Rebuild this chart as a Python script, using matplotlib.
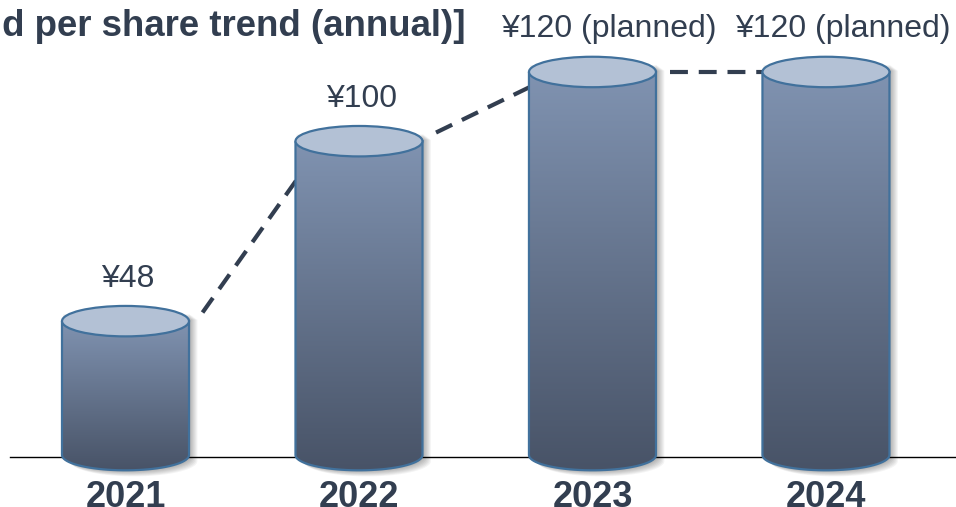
import matplotlib
matplotlib.use("Agg")
import matplotlib.pyplot as plt
import numpy as np
from matplotlib.patches import Ellipse, PathPatch
from matplotlib.path import Path

plt.rcParams['font.family'] = ['Liberation Sans', 'DejaVu Sans']

# data
years = ['2021', '2022', '2023', '2024']
dividends = [48, 100, 120, 120]
planned = [False, False, True, True]
title = '[Dividend per share trend (annual)]'

text_col = '#323E50'
edge_col = '#41719C'
top_col = '#B3C1D5'
body_top = np.array([0x80, 0x93, 0xB1]) / 255
body_bot = np.array([0x48, 0x53, 0x67]) / 255

base = 9.3        # value where cylinder bottoms sit
cw = 0.544        # cylinder width (category units)
eh = 8.8          # ellipse height (value units)

fig = plt.figure(figsize=(9.56, 5.07), dpi=100)
ax = fig.add_axes([0, 0, 1, 1])
ax.set_xlim(-0.5375, 3.557)
ax.set_ylim(-5.7, 140.8)
ax.axis('off')

# baseline
ax.plot([-0.495, 3.557], [8.7, 8.7], color='black', lw=1.0, zorder=1)

# dashed trend connectors, behind the cylinders
for i in range(len(dividends) - 1):
    v0, v1 = dividends[i], dividends[i + 1]
    x0, x1 = i + 0.33, i + 0.73
    y0 = v0 + 2.5 if v1 > v0 else v0
    y1 = v1 - 0.22 * (v1 - v0)
    ln, = ax.plot([x0, x1], [y0, y1], color=text_col, lw=3, zorder=2,
                  solid_capstyle='butt', dash_capstyle='butt')
    ln.set_dashes((4.3, 2.6))


def body_path(x, v, dx=0.0, dy=0.0):
    t = np.linspace(np.pi, 2 * np.pi, 40)
    left, right = x - cw / 2 + dx, x + cw / 2 + dx
    verts = [(left, v + dy), (left, base + dy)]
    verts += list(zip(x + dx + cw / 2 * np.cos(t), base + dy + eh / 2 * np.sin(t)))
    verts += [(right, base + dy), (right, v + dy), (left, v + dy)]
    return Path(verts)


grad = np.linspace(0, 1, 256)[:, None]
cmap = matplotlib.colors.LinearSegmentedColormap.from_list('cyl', [body_bot, body_top])

for i, (yr, v) in enumerate(zip(years, dividends)):
    # soft shadow
    for k in range(1, 9):
        sp = body_path(i, v + eh / 2 * 0.5, dx=0.0045 * k, dy=-0.22 * k)
        ax.add_patch(PathPatch(sp, facecolor='black', edgecolor='none', alpha=0.045, zorder=3))
    bp = body_path(i, v)
    clip = PathPatch(bp, facecolor='none', edgecolor='none', transform=ax.transData)
    ax.add_patch(clip)
    im = ax.imshow(grad, cmap=cmap, aspect='auto', origin='lower',
                   extent=(i - cw / 2, i + cw / 2, base - eh / 2, v), zorder=4)
    im.set_clip_path(clip)
    ax.add_patch(PathPatch(bp, facecolor='none', edgecolor=edge_col, lw=1.6, zorder=5))
    ax.add_patch(Ellipse((i, v), cw, eh, facecolor=top_col, edgecolor=edge_col, lw=1.6, zorder=6))

    lab = '¥%d' % v + (' (planned)' if planned[i] else '')
    ax.text(i + (0.072 if planned[i] else 0.01), v + 10, lab, ha='center', va='baseline',
            fontsize=23, color=text_col, zorder=7)
    ax.text(i, -5.6, yr, ha='center', va='baseline', fontsize=26, fontweight='bold',
            color=text_col, clip_on=False)

ax.set_xlim(-0.5375, 3.557)
ax.set_ylim(-5.7, 140.8)

fig.text(465 / 956, 1 - 36.5 / 507, title, ha='right', va='baseline', fontsize=26.4,
         fontweight='bold', color=text_col)

fig.savefig('out.png', dpi=100)
